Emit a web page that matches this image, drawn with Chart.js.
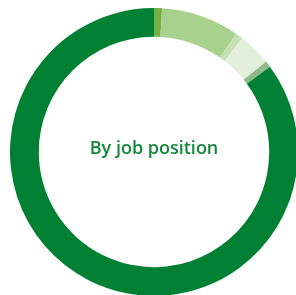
<!DOCTYPE html>
<html>
<head>
<meta charset="utf-8">
<script src="https://cdn.jsdelivr.net/npm/chart.js@4/dist/chart.umd.min.js"></script>
<style>
    html, body { margin: 0; padding: 0; background: #fff; overflow: hidden; }
    #wrap { position: absolute; left: 10px; top: 8px; width: 288px; height: 288px; }
</style>
</head>
<body>
<div id="wrap"><canvas id="jobChart"></canvas></div>
<script>
// Share by job position (%), clockwise from 12 o'clock
const positions = ['Position A', 'Position B', 'Position C', 'Position D', 'Position E', 'Position F'];
const shares = [0.9, 8.8, 0.8, 3.7, 0.7, 85.1];
const sliceColors = ['#76b043', '#a9d18e', '#c5e0b4', '#e2efda', '#8dbb8b', '#008033'];
const centerLabel = 'By job position';

const centerText = {
    id: 'centerText',
    afterDraw(chart) {
        const { ctx } = chart;
        const meta = chart.getDatasetMeta(0).data[0];
        ctx.save();
        ctx.font = "600 18px 'Open Sans', sans-serif";
        ctx.fillStyle = '#14883a';
        ctx.textAlign = 'center';
        ctx.textBaseline = 'middle';
        ctx.fillText(centerLabel, meta.x, meta.y - 3);
        ctx.restore();
    }
};

new Chart(document.getElementById('jobChart'), {
    type: 'doughnut',
    data: {
        labels: positions,
        datasets: [{
            data: shares,
            backgroundColor: sliceColors,
            borderWidth: 0
        }]
    },
    options: {
        responsive: true,
        maintainAspectRatio: false,
        animation: false,
        cutout: '80%',
        layout: { padding: 0 },
        plugins: { legend: { display: false }, tooltip: { enabled: false } }
    },
    plugins: [centerText]
});
</script>
</body>
</html>
